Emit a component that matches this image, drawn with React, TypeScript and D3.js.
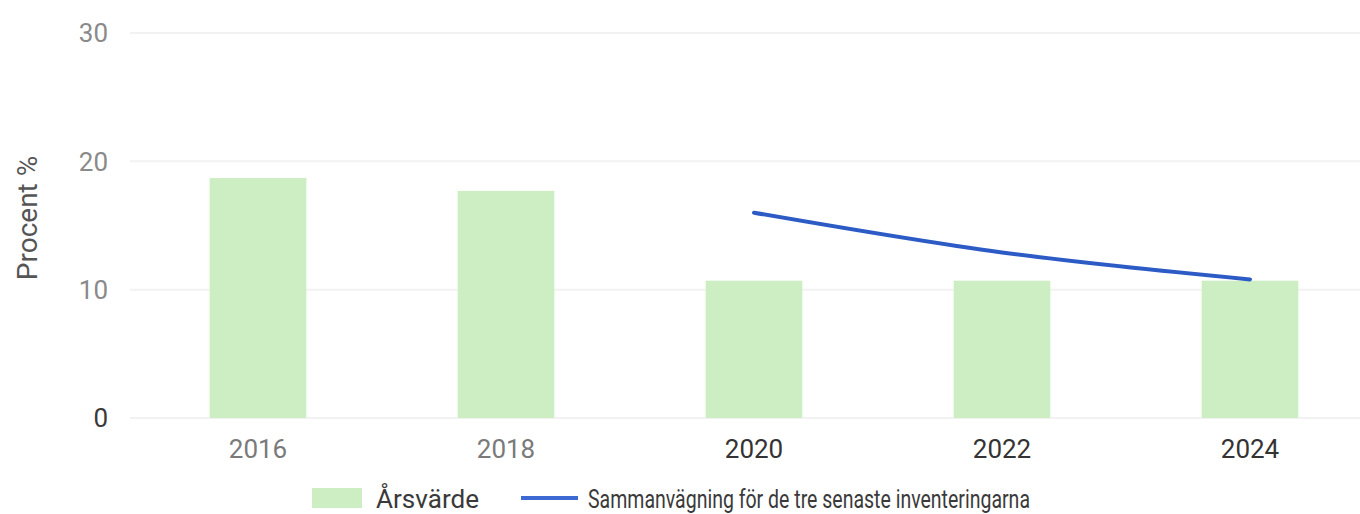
import React from "react";
import * as d3 from "d3";

const years = ["2016", "2018", "2020", "2022", "2024"];
const arsvarde = [18.7, 17.7, 10.7, 10.7, 10.7];
const lineYears = ["2020", "2022", "2024"];
const sammanvagning = [16.0, 12.9, 10.8];
const yTicks = [0, 10, 20, 30];
const legendLabels = ["Årsvärde", "Sammanvägning för de tre senaste inventeringarna"];

const W = 1360;
const H = 514;

export default function App() {
  const x = d3.scaleBand<string>().domain(years).range([134, 1374]).paddingInner(0.61).paddingOuter(0.305);
  const y = d3.scaleLinear().domain([0, 30]).range([418, 33]);
  const line = d3
    .line<number>()
    .x((_, i) => (x(lineYears[i]) as number) + x.bandwidth() / 2)
    .y((d) => y(d))
    .curve(d3.curveMonotoneX);
  const font = "Roboto, 'Liberation Sans', sans-serif";
  return (
    <svg width={W} height={H} style={{ position: "absolute", left: 0, top: 0, background: "#fff" }} fontFamily={font}>
      {yTicks.map((t) => (
        <g key={t}>
          <line x1={130} x2={1360} y1={y(t)} y2={y(t)} stroke="#f2f2f2" strokeWidth={2} />
          <text x={108} y={y(t)} dy="0.36em" textAnchor="end" fontSize={26} fill={t === 0 ? "#3a3a3a" : "#8a8a8a"}>
            {t}
          </text>
        </g>
      ))}
      <text transform={`translate(37,${218}) rotate(-90)`} textAnchor="middle" fontSize={28} fill="#555">
        Procent %
      </text>
      {years.map((yr, i) => (
        <g key={yr}>
          <rect x={x(yr)} y={y(arsvarde[i])} width={x.bandwidth()} height={y(0) - y(arsvarde[i])} fill="#cdedc2" />
          <text x={(x(yr) as number) + x.bandwidth() / 2} y={449} dy="0.36em" textAnchor="middle" fontSize={26} fill={i < 2 ? "#7a7a7a" : "#333"}>
            {yr}
          </text>
        </g>
      ))}
      <path d={line(sammanvagning) || ""} fill="none" stroke="#2d5bc6" strokeWidth={4} strokeLinecap="round" />
      <g>
        <rect x={312} y={488} width={50} height={20} fill="#cdedc2" />
        <text x={376} y={508} fontSize={26} fill="#3a3a3a" textLength={103} lengthAdjust="spacingAndGlyphs">
          {legendLabels[0]}
        </text>
        <line x1={521} x2={578} y1={498} y2={498} stroke="#3d6ad2" strokeWidth={4} />
        <text x={588} y={508} fontSize={26} fill="#3a3a3a" textLength={442} lengthAdjust="spacingAndGlyphs">
          {legendLabels[1]}
        </text>
      </g>
    </svg>
  );
}
